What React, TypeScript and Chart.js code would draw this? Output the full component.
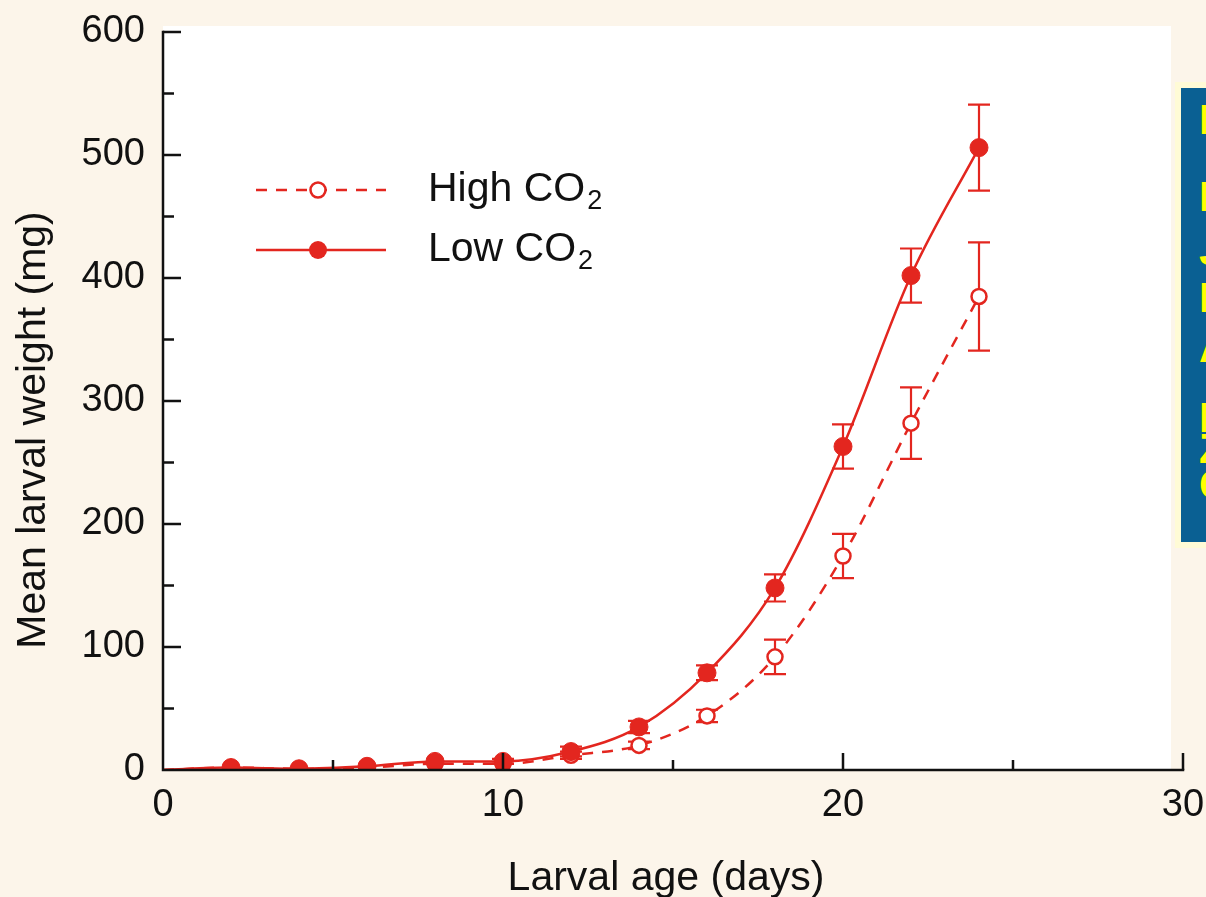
import React, { useEffect, useRef } from "react";
import { Chart, registerables } from "chart.js";

Chart.register(...registerables);

// ---- data ----
const days = [0, 2, 4, 6, 8, 10, 12, 14, 16, 18, 20, 22, 24];
const lowCO2 = [0, 2, 1, 3, 7, 7, 15, 35, 79, 148, 263, 402, 506];
const lowErr = [0, 0, 0, 0, 0, 2, 4, 5, 6, 11, 18, 22, 35];
const highCO2 = [0, 2, 1, 2, 5, 5, 12, 20, 44, 92, 174, 282, 385];
const highErr = [0, 0, 0, 0, 0, 0, 3, 3, 5, 14, 18, 29, 44];
const seriesNames = ["Low CO", "High CO"];
const seriesSub = "2";
const xTitle = "Larval age (days)";
const yTitle = "Mean larval weight (mg)";
const xMajor = [10, 20, 30];
const xMinor = [5, 15, 25];
const yMajor = [100, 200, 300, 400, 500, 600];
const yMinor = [50, 150, 250, 350, 450, 550];
const sideLines = ["Data:", "Ecology", "J. Chem.", "Ecol.", "Agrell", "Note", "Zangerl", "CO\u2082"];
const sideTops = [105, 182, 236, 283, 333, 403, 434, 470];

const RED = "#e3261f";
const FONT = "'Liberation Sans', Arial, Helvetica, sans-serif";

const bgPlugin = {
  id: "bgPlugin",
  beforeDraw(chart: any) {
    const { ctx, chartArea } = chart;
    ctx.save();
    ctx.fillStyle = "#fcf5ea";
    ctx.fillRect(0, 0, chart.width, chart.height);
    ctx.fillStyle = "#ffffff";
    ctx.fillRect(chartArea.left, chartArea.top - 6, chartArea.right - chartArea.left - 12, chartArea.bottom - chartArea.top + 6);
    ctx.restore();
  },
};

const axesPlugin = {
  id: "axesPlugin",
  afterDraw(chart: any) {
    const { ctx, chartArea, scales } = chart;
    const x = scales.x;
    const y = scales.y;
    ctx.save();
    ctx.strokeStyle = "#111";
    ctx.lineWidth = 2.5;
    ctx.lineCap = "square";
    ctx.beginPath();
    ctx.moveTo(chartArea.left, chartArea.top);
    ctx.lineTo(chartArea.left, chartArea.bottom);
    ctx.lineTo(chartArea.right, chartArea.bottom);
    ctx.stroke();
    ctx.lineCap = "butt";
    ctx.beginPath();
    yMajor.forEach((v) => {
      const p = y.getPixelForValue(v);
      ctx.moveTo(chartArea.left, p);
      ctx.lineTo(chartArea.left + 18, p);
    });
    yMinor.forEach((v) => {
      const p = y.getPixelForValue(v);
      ctx.moveTo(chartArea.left, p);
      ctx.lineTo(chartArea.left + 11, p);
    });
    xMajor.forEach((v) => {
      const p = x.getPixelForValue(v);
      ctx.moveTo(p, chartArea.bottom);
      ctx.lineTo(p, chartArea.bottom - 17);
    });
    xMinor.forEach((v) => {
      const p = x.getPixelForValue(v);
      ctx.moveTo(p, chartArea.bottom);
      ctx.lineTo(p, chartArea.bottom - 10);
    });
    ctx.stroke();

    // axis titles
    ctx.fillStyle = "#111";
    ctx.font = `41px ${FONT}`;
    ctx.textAlign = "center";
    ctx.textBaseline = "middle";
    ctx.fillText(xTitle, 666, 879);
    ctx.translate(34, 430);
    ctx.rotate(-Math.PI / 2);
    ctx.fillText(yTitle, 0, 0);
    ctx.restore();
  },
};

const errPlugin = {
  id: "errPlugin",
  beforeDatasetsDraw(chart: any) {
    const { ctx, scales } = chart;
    const x = scales.x;
    const y = scales.y;
    const sets = [
      { vals: lowCO2, errs: lowErr },
      { vals: highCO2, errs: highErr },
    ];
    ctx.save();
    ctx.strokeStyle = RED;
    ctx.lineWidth = 2.2;
    sets.forEach((s) => {
      s.errs.forEach((e, i) => {
        if (!e) return;
        const px = x.getPixelForValue(days[i]);
        const top = y.getPixelForValue(s.vals[i] + e);
        const bot = y.getPixelForValue(Math.max(0, s.vals[i] - e));
        ctx.beginPath();
        ctx.moveTo(px, top);
        ctx.lineTo(px, bot);
        ctx.moveTo(px - 11, top);
        ctx.lineTo(px + 11, top);
        ctx.moveTo(px - 11, bot);
        ctx.lineTo(px + 11, bot);
        ctx.stroke();
      });
    });
    ctx.restore();
  },
};

function drawLabel(ctx: any, text: string, x: number, y: number) {
  ctx.font = `41px ${FONT}`;
  ctx.textBaseline = "middle";
  ctx.textAlign = "left";
  ctx.fillText(text, x, y);
  const w = ctx.measureText(text).width;
  ctx.font = `27px ${FONT}`;
  ctx.fillText(seriesSub, x + w + 2, y + 12);
}

const legendPlugin = {
  id: "legendPlugin",
  afterDraw(chart: any) {
    const { ctx } = chart;
    ctx.save();
    ctx.strokeStyle = RED;
    ctx.lineWidth = 2.5;
    ctx.setLineDash([11, 9]);
    ctx.beginPath();
    ctx.moveTo(256, 190);
    ctx.lineTo(386, 190);
    ctx.stroke();
    ctx.setLineDash([]);
    ctx.fillStyle = "#fff";
    ctx.beginPath();
    ctx.arc(318, 190, 7.5, 0, Math.PI * 2);
    ctx.fill();
    ctx.stroke();
    ctx.beginPath();
    ctx.moveTo(256, 250);
    ctx.lineTo(386, 250);
    ctx.stroke();
    ctx.fillStyle = RED;
    ctx.beginPath();
    ctx.arc(318, 250, 9, 0, Math.PI * 2);
    ctx.fill();
    ctx.fillStyle = "#111";
    drawLabel(ctx, seriesNames[1], 428, 190);
    drawLabel(ctx, seriesNames[0], 428, 250);
    ctx.restore();
  },
};

export default function App() {
  const ref = useRef<HTMLCanvasElement | null>(null);

  useEffect(() => {
    if (!ref.current) return;
    const pts = (vals: number[]) => vals.map((v, i) => ({ x: days[i], y: v }));
    const radii = (r: number) => days.map((d) => (d === 0 ? 0 : r));
    const chart = new Chart(ref.current, {
      type: "line",
      data: {
        datasets: [
          {
            label: seriesNames[0] + seriesSub,
            data: pts(lowCO2),
            borderColor: RED,
            borderWidth: 2.5,
            backgroundColor: RED,
            pointBackgroundColor: RED,
            pointBorderColor: RED,
            pointRadius: radii(9),
            pointBorderWidth: 1,
            cubicInterpolationMode: "monotone",
            fill: false,
          },
          {
            label: seriesNames[1] + seriesSub,
            data: pts(highCO2),
            borderColor: RED,
            borderWidth: 2.5,
            borderDash: [11, 9],
            backgroundColor: "#fff",
            pointBackgroundColor: "#fff",
            pointBorderColor: RED,
            pointRadius: radii(7.5),
            pointBorderWidth: 2.5,
            cubicInterpolationMode: "monotone",
            fill: false,
          },
        ],
      },
      options: {
        responsive: false,
        animation: false,
        layout: { padding: { top: 32, right: 23, left: 0, bottom: 0 } },
        plugins: {
          legend: { display: false },
          tooltip: { enabled: false },
        },
        scales: {
          x: {
            type: "linear",
            min: 0,
            max: 30,
            grid: { display: false, drawTicks: false },
            border: { display: false },
            ticks: {
              stepSize: 10,
              padding: 13,
              color: "#111",
              font: { family: FONT, size: 38 },
              maxRotation: 0,
            },
            title: { display: false },
            afterFit(scale: any) {
              scale.height = 127;
              scale.paddingLeft = 0;
              scale.paddingRight = 0;
            },
          },
          y: {
            type: "linear",
            min: 0,
            max: 600,
            grid: { display: false, drawTicks: false },
            border: { display: false },
            ticks: {
              stepSize: 100,
              padding: 18,
              color: "#111",
              font: { family: FONT, size: 38 },
            },
            title: { display: false },
            afterFit(scale: any) {
              scale.width = 163;
              scale.paddingTop = 0;
              scale.paddingBottom = 0;
            },
          },
        },
      },
      plugins: [bgPlugin, errPlugin, axesPlugin, legendPlugin],
    } as any);
    return () => chart.destroy();
  }, []);

  return (
    <div
      style={{
        position: "absolute",
        left: 0,
        top: 0,
        width: 1206,
        height: 897,
        overflow: "hidden",
        background: "#fcf5ea",
      }}
    >
      <canvas ref={ref} width={1206} height={897} style={{ display: "block" }} />
      <div
        style={{
          position: "absolute",
          left: 1175,
          top: 82,
          width: 200,
          height: 454,
          background: "#0a6093",
          border: "6px solid #fffbd6",
          overflow: "hidden",
        }}
      >
        {sideLines.map((t, i) => (
          <div
            key={i}
            style={{
              position: "absolute",
              left: 18,
              top: sideTops[i] - 88 - 6,
              font: `bold 42px ${FONT}`,
              lineHeight: "42px",
              color: "#ffff00",
              whiteSpace: "nowrap",
            }}
          >
            {t}
          </div>
        ))}
      </div>
    </div>
  );
}
